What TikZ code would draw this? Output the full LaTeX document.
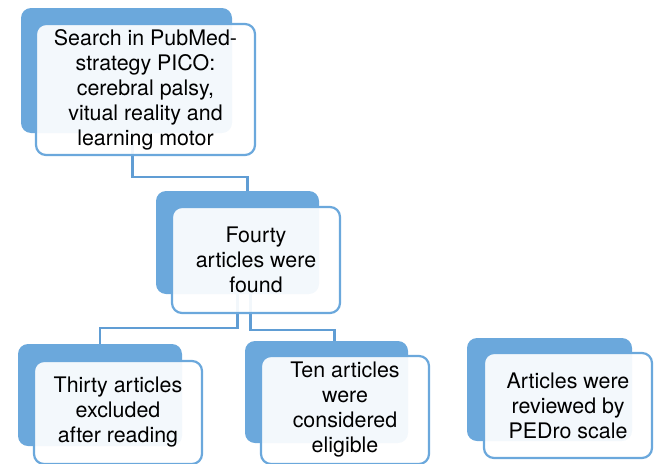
\documentclass[tikz,border=0pt]{standalone}
\usepackage{fontspec}
\setmainfont{TeX Gyre Heros}
\usepackage{tikz}
\definecolor{boxblue}{RGB}{107,168,220}
\definecolor{linkblue}{RGB}{96,157,212}

\begin{document}
\begin{tikzpicture}[x=1pt,y=-1pt,
		back/.style={rectangle,rounded corners=10,fill=boxblue,inner sep=0},
		front/.style={rectangle,rounded corners=10,draw=boxblue,line width=2.2pt,
			fill=white,fill opacity=0.92,text opacity=1,align=center,inner sep=0,
			font=\fontsize{21.4}{25}\selectfont},
		link/.style={draw=linkblue,line width=2.4pt}]
		\useasboundingbox (0,0) rectangle (655,463);
		
		% shadow boxes
		\node[back,minimum width=211,minimum height=125] (searchbg) at (126.5,70.5) {};
		\node[back,minimum width=163,minimum height=103] (foundbg) at (237.5,242.5) {};
		\node[back,minimum width=164,minimum height=102] (excludedbg) at (100,395) {};
		\node[back,minimum width=163,minimum height=102] (eligiblebg) at (326.5,392) {};
		\node[back,minimum width=165,minimum height=103] (pedrobg) at (549.5,389.5) {};
		
		% links
		\draw[link] ([xshift=6]searchbg.south) -- ++(0,44) -| ([xshift=10]foundbg.north);
		\draw[link] (foundbg.south) -- ++(0,34) -| (excludedbg.north);
		\draw[link] ([xshift=13]foundbg.south) -- ++(0,36) -| ([xshift=8]eligiblebg.north);
		
		% text boxes
		\node[front,minimum width=219,minimum height=131] (search) at (145.5,89.5)
			{Search in PubMed-\\strategy PICO:\\cerebral palsy,\\vitual reality and\\learning motor};
		\node[front,minimum width=168,minimum height=106] (found) at (256,260)
			{Fourty\\articles were\\found};
		\node[front,minimum width=168,minimum height=103] (excluded) at (118,412.5)
			{Thirty articles\\excluded\\after reading};
		\node[front,minimum width=168,minimum height=108] (eligible) at (345,410)
			{Ten articles\\were\\considered\\eligible};
		\node[front,minimum width=168,minimum height=105] (pedro) at (568,405.5)
			{Articles were\\reviewed by\\PEDro scale};
	\end{tikzpicture}
\end{document}
